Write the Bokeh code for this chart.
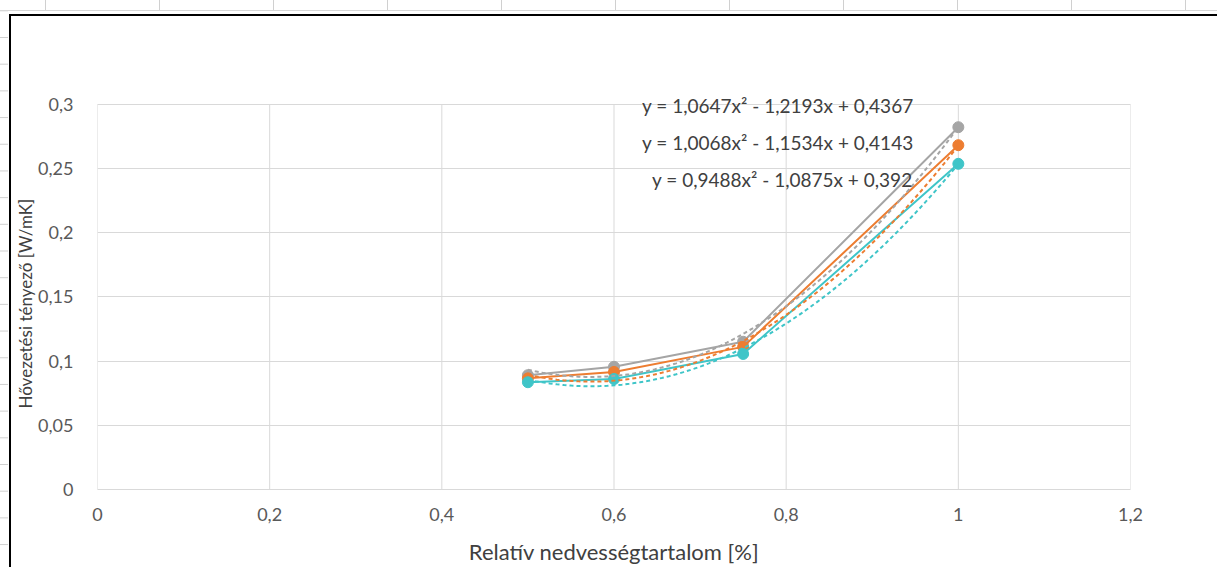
import numpy as np
from bokeh.plotting import figure
from bokeh.models import Range1d, FixedTicker, Label, Title, InlineStyleSheet
from bokeh.embed import file_html
from bokeh.resources import INLINE

# Measured thermal conductivity vs. relative moisture content
moisture = [0.5, 0.6, 0.75, 1.0]
series_gray = [0.089, 0.0955, 0.115, 0.282]
series_orange = [0.0865, 0.0915, 0.111, 0.268]
series_cyan = [0.0835, 0.086, 0.1055, 0.2535]

# Second-order trendline coefficients (a, b, c) as printed on the chart
trend_gray = (1.0647, -1.2193, 0.4367)
trend_orange = (1.0068, -1.1534, 0.4143)
trend_cyan = (0.9488, -1.0875, 0.392)
equations = [
    "y = 1,0647x² - 1,2193x + 0,4367",
    "y = 1,0068x² - 1,1534x + 0,4143",
    "y = 0,9488x² - 1,0875x + 0,392",
]

x_ticks = [0, 0.2, 0.4, 0.6, 0.8, 1.0, 1.2]
x_tick_labels = ["0", "0,2", "0,4", "0,6", "0,8", "1", "1,2"]
y_ticks = [0, 0.05, 0.1, 0.15, 0.2, 0.25, 0.3]
y_tick_labels = ["0", "0,05", "0,1", "0,15", "0,2", "0,25", "0,3"]

FONT = "Lato"
GRAY = "#A5A5A5"
ORANGE = "#ED7D31"
CYAN = "#3FC5C8"
GRID = "#D9D9D9"

W, H = 1217, 567
BORDER_L, BORDER_R, BORDER_B = 97, 87, 76
PLOT_TOP = 104  # pixel row of the y = 0.3 gridline

# the frame reaches the top of the canvas so the equations near 0.3 are not clipped
y_max = y_ticks[-1]
plot_h = H - BORDER_B - PLOT_TOP
y_end = y_max * (H - BORDER_B) / plot_h

p = figure(
    width=W, height=H,
    x_range=Range1d(x_ticks[0], x_ticks[-1]), y_range=Range1d(0, y_end),
    output_backend="svg", toolbar_location=None,
    min_border_left=BORDER_L, min_border_right=BORDER_R,
    min_border_top=0, min_border_bottom=BORDER_B,
)
p.outline_line_color = None
p.background_fill_alpha = 0
p.border_fill_alpha = 0

# white sheet with the chart box border and the faint worksheet cell lines behind it
p.stylesheets = [InlineStyleSheet(css="""
:host {
  background-color: #ffffff;
  background-image:
    linear-gradient(#000000, #000000),
    linear-gradient(#000000, #000000),
    linear-gradient(#d6d6d6, #d6d6d6),
    linear-gradient(to right, #d0d0d0 1px, transparent 1px),
    linear-gradient(#d0d0d0 1px, transparent 1px);
  background-size: 2px 560px, 1220px 2px, 1217px 1px, 114px 10px, 8px 26.7px;
  background-position: 9px 14px, 9px 14px, 0px 10px, 45px 0px, 0px 37px;
  background-repeat: no-repeat, no-repeat, no-repeat, repeat-x, repeat-y;
}
""")]

for ax, ticks, labels in ((p.xaxis[0], x_ticks, x_tick_labels), (p.yaxis[0], y_ticks, y_tick_labels)):
    ax.ticker = FixedTicker(ticks=ticks)
    ax.major_label_overrides = {t: l for t, l in zip(ticks, labels)}
    ax.major_tick_line_color = None
    ax.minor_tick_line_color = None
    ax.major_label_text_font = FONT
    ax.major_label_text_font_size = "18px"
    ax.major_label_text_color = "#595959"

p.xaxis.axis_line_color = GRID
p.yaxis.axis_line_color = None
p.xaxis.major_label_standoff = 12
p.yaxis.major_label_standoff = 18
p.xaxis.axis_label = "Relatív nedvességtartalom [%]"
p.xaxis.axis_label_text_font = FONT
p.xaxis.axis_label_text_color = "#404040"
p.xaxis.axis_label_text_font_style = "normal"
p.xaxis.axis_label_text_font_size = "22px"
p.xaxis.axis_label_standoff = 14

# y-axis title, centred on the 0 .. 0.3 plot area rather than the whole frame
y_title = "Hővezetési tényező [W/mK]"
p.add_layout(Title(
    text=y_title, align="left", offset=81, standoff=0,
    text_font=FONT, text_font_size="17px", text_color="#404040", text_font_style="normal",
), "left")

# horizontal gridlines across the plot area; vertical ones stop at the top value
p.xgrid.visible = False
p.ygrid.grid_line_color = GRID
p.ygrid.ticker = FixedTicker(ticks=y_ticks)
p.segment(x0=x_ticks, y0=[0] * len(x_ticks), x1=x_ticks, y1=[y_max] * len(x_ticks),
          line_color=GRID, line_width=1, level="underlay")

# measured series with markers
for ys, col in ((series_gray, GRAY), (series_orange, ORANGE), (series_cyan, CYAN)):
    p.line(moisture, ys, line_color=col, line_width=2)
    p.scatter(moisture, ys, size=11, fill_color=col, line_color=col)

# dashed polynomial trendlines over the measured range
xs_fit = np.linspace(min(moisture), max(moisture), 120)
for (a, b, c), col in ((trend_gray, GRAY), (trend_orange, ORANGE), (trend_cyan, CYAN)):
    p.line(xs_fit, a * xs_fit**2 + b * xs_fit + c, line_color=col, line_width=2, line_dash="4 3")

# trendline equations
eq_x = [0.6326, 0.6326, 0.6442]
eq_y = [0.2992, 0.2698, 0.2411]
for txt, xv, yv in zip(equations, eq_x, eq_y):
    p.add_layout(Label(
        x=xv, y=yv, text=txt, text_align="left", text_baseline="middle",
        text_font=FONT, text_font_size="19px", text_color="#404040",
    ))

open("out.html", "w").write(file_html(p, INLINE))
